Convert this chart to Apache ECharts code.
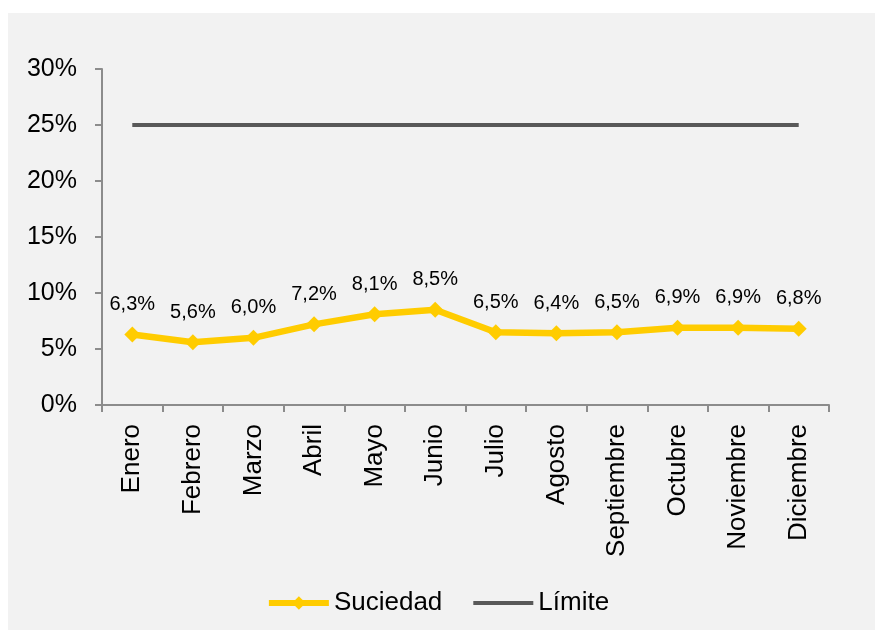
<!DOCTYPE html>
<html>
<head>
<meta charset="utf-8">
<script src="https://cdn.jsdelivr.net/npm/echarts@6/dist/echarts.min.js"></script>
<style>
html,body{margin:0;padding:0;background:#ffffff;}
#chart{width:875px;height:630px;}
</style>
</head>
<body>
<div id="chart"></div>
<script>
var categories = ['Enero','Febrero','Marzo','Abril','Mayo','Junio','Julio','Agosto','Septiembre','Octubre','Noviembre','Diciembre'];
var suciedad = [6.3, 5.6, 6.0, 7.2, 8.1, 8.5, 6.5, 6.4, 6.5, 6.9, 6.9, 6.8];
var limite = [25, 25, 25, 25, 25, 25, 25, 25, 25, 25, 25, 25];
var seriesNames = ['Suciedad', 'Límite'];

var FONT = "'Liberation Sans', Arial, sans-serif";
var chart = echarts.init(document.getElementById('chart'));
chart.setOption({
  animation: false,
  backgroundColor: '#ffffff',
  graphic: [{
    type: 'rect', z: -10, silent: true,
    shape: {x: 8, y: 13, width: 867, height: 617},
    style: {fill: '#f2f2f2'}
  }],
  grid: {left: 102, right: 46, top: 69, bottom: 225, containLabel: false},
  legend: {
    data: [
      {name: seriesNames[0], lineStyle: {width: 6, color: '#ffcc00'}, itemStyle: {color: '#ffcc00'}},
      {name: seriesNames[1], lineStyle: {width: 4, color: '#595959'}, itemStyle: {opacity: 0}}
    ],
    top: 585,
    left: 'center',
    itemWidth: 60,
    itemHeight: 17,
    itemGap: 29,
    textStyle: {fontFamily: FONT, fontSize: 26, color: '#000000'}
  },
  xAxis: {
    type: 'category',
    data: categories,
    boundaryGap: true,
    axisLine: {lineStyle: {color: '#8c8c8c', width: 2}},
    axisTick: {show: true, length: 7, lineStyle: {color: '#8c8c8c', width: 2}},
    axisLabel: {rotate: 90, margin: 19, fontFamily: FONT, fontSize: 26, color: '#000000', interval: 0},
    splitLine: {show: false}
  },
  yAxis: {
    type: 'value',
    min: 0, max: 30, interval: 5,
    axisLine: {show: true, lineStyle: {color: '#8c8c8c', width: 2}},
    axisTick: {show: true, length: 7, lineStyle: {color: '#8c8c8c', width: 2}},
    axisLabel: {formatter: '{value}%', margin: 25, fontFamily: FONT, fontSize: 25, color: '#000000'},
    splitLine: {show: false}
  },
  series: [
    {
      name: seriesNames[0],
      type: 'line',
      data: suciedad,
      z: 3,
      color: '#ffcc00',
      lineStyle: {color: '#ffcc00', width: 6.5},
      symbol: 'diamond',
      symbolSize: 16,
      itemStyle: {color: '#ffcc00'},
      label: {
        show: true, position: 'top', distance: 12,
        fontFamily: FONT, fontSize: 20, color: '#000000',
        formatter: function(p){ return p.value.toFixed(1).replace('.', ',') + '%'; }
      }
    },
    {
      name: seriesNames[1],
      type: 'line',
      data: limite,
      color: '#595959',
      lineStyle: {color: '#595959', width: 4},
      symbol: 'none',
      showSymbol: false,
      itemStyle: {color: '#595959'}
    }
  ]
});
</script>
</body>
</html>
